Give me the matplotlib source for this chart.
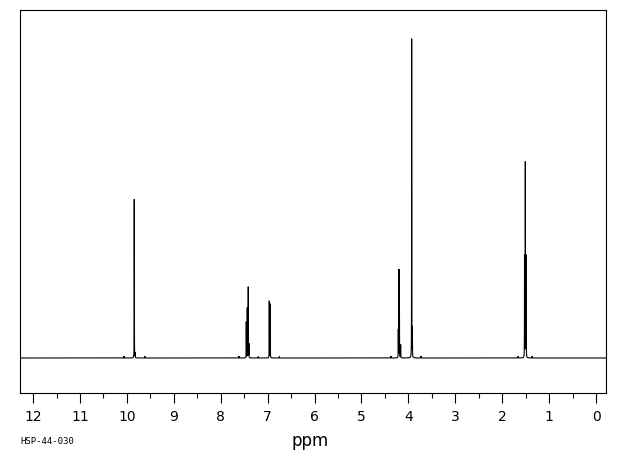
import numpy as np
import matplotlib
matplotlib.use("Agg")
import matplotlib.pyplot as plt

# Peak list (chemical shift in ppm, intensity in baseline-relative units)
peak_ppm = [10.06, 9.844, 9.825, 9.62,
            7.61, 7.456, 7.435, 7.414, 7.40, 7.20, 6.966, 6.945, 6.75,
            4.37, 4.215, 4.200, 4.192, 4.165, 3.930, 3.915, 3.73,
            1.66, 1.524, 1.507, 1.490, 1.36]
peak_height = [2, 159, 5, 2,
               2, 36, 50, 71, 14, 1.5, 57, 54, 1.5,
               2, 28, 86, 80, 13, 319, 29, 2,
               2, 102, 195, 102, 2]
peak_width = 0.0015  # Lorentzian half width, ppm

x_ticks = [12, 11, 10, 9, 8, 7, 6, 5, 4, 3, 2, 1, 0]
x_label = "ppm"
code_label = "HSP-44-030"

W, H = 620, 455
fig = plt.figure(figsize=(W / 100, H / 100), dpi=100)
ax = fig.add_axes([20 / W, (H - 393) / H, (606 - 20) / W, (393 - 10) / H])

ppm = np.linspace(12.3, -0.25, 80000)
spec = np.zeros_like(ppm)
for p, h in zip(peak_ppm, peak_height):
    spec += h / (1 + ((ppm - p) / peak_width) ** 2)

ax.plot(ppm, spec, color="black", lw=0.8, solid_joinstyle="miter")
ax.set_xlim(12.28, -0.213)
ax.set_ylim(-35, 348)

ax.set_xticks(x_ticks)
ax.set_xticklabels([str(t) for t in x_ticks])
ax.set_xticks(np.arange(0.5, 12, 1.0), minor=True)
ax.tick_params(axis="x", which="major", direction="out", length=7.5, width=0.8,
               pad=5, labelsize=10, colors="black")
ax.tick_params(axis="x", which="minor", direction="out", length=3.8, width=0.8)
ax.set_yticks([])
for s in ax.spines.values():
    s.set_linewidth(0.8)
    s.set_color("black")

fig.text(310 / W, 1 - 441 / H, x_label, ha="center", va="center", fontsize=12)
fig.text(20 / W, 1 - 442 / H, code_label, ha="left", va="center", fontsize=6.5,
         family="DejaVu Sans Mono")

fig.savefig("out.png", dpi=100)
